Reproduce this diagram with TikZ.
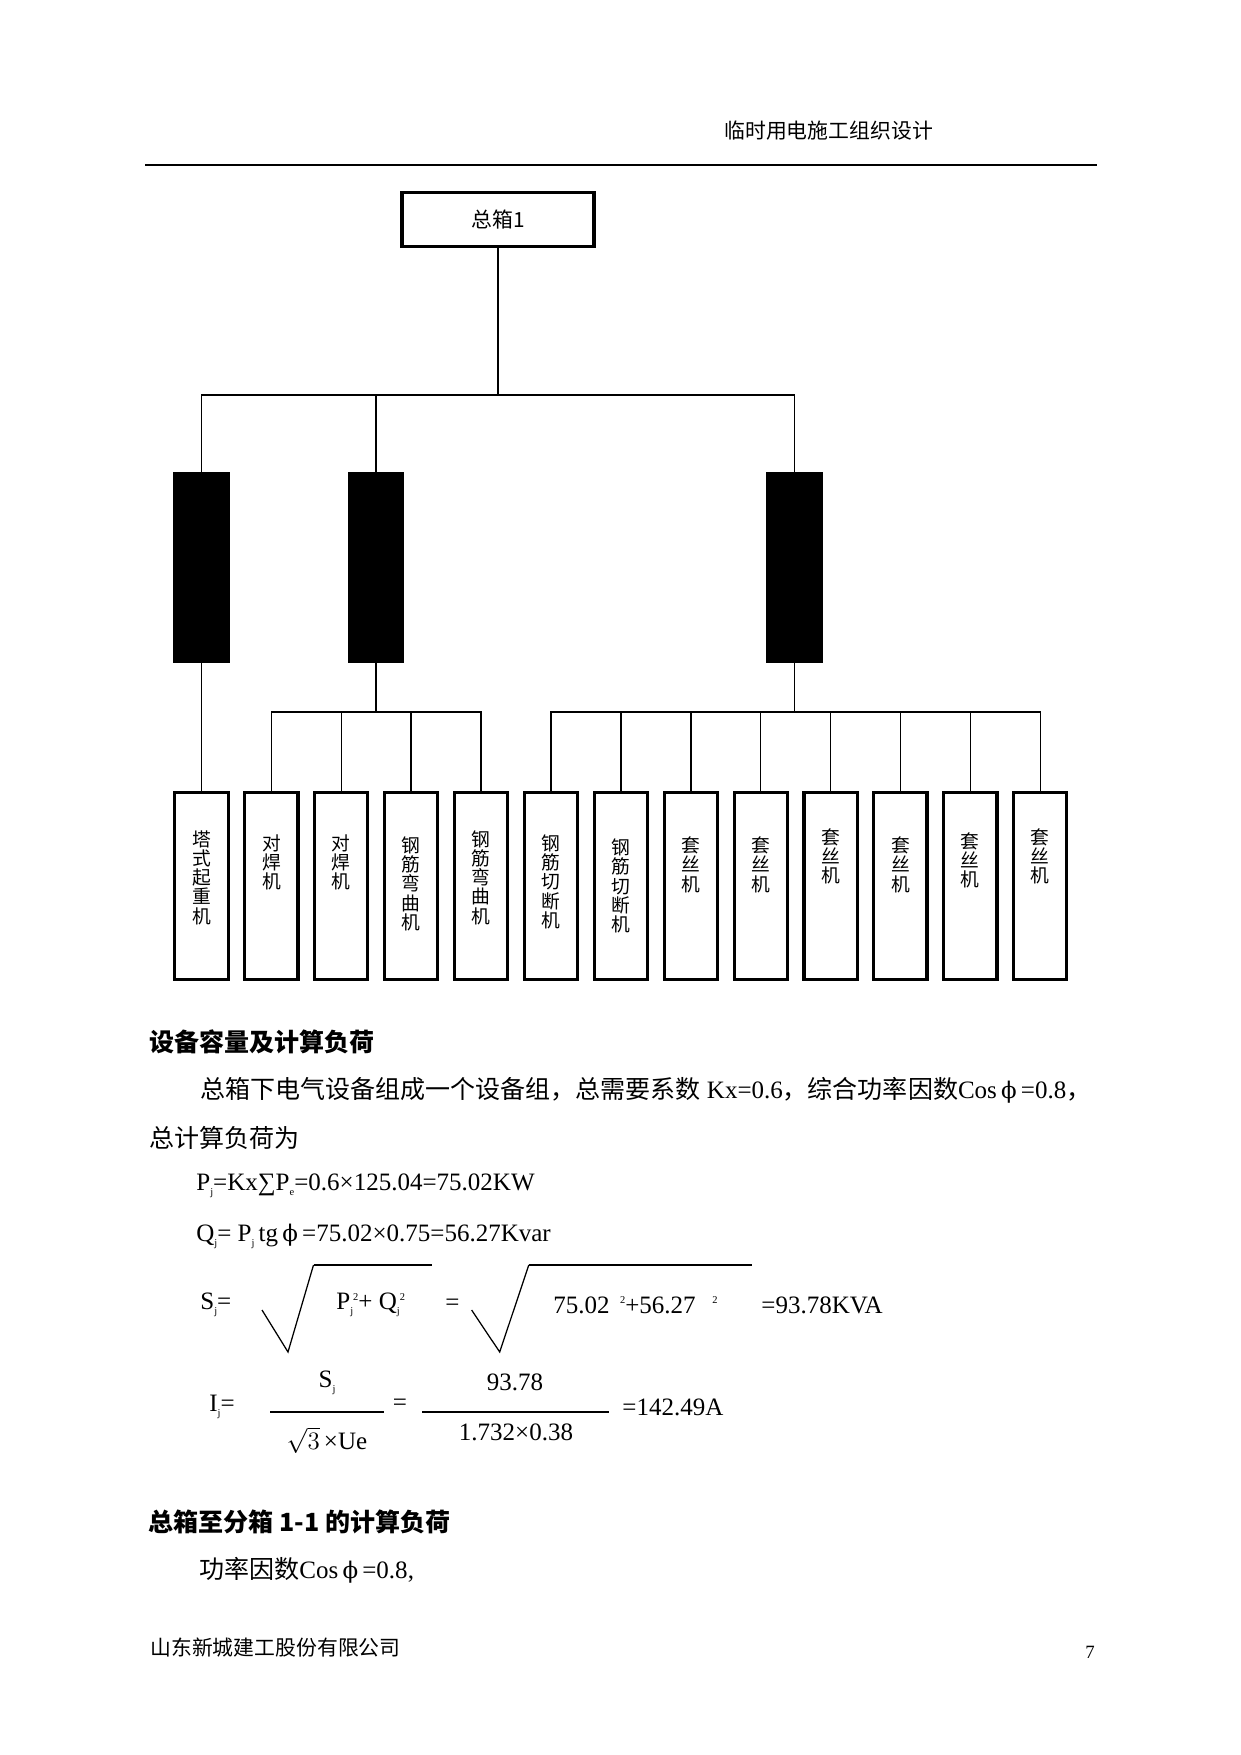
\documentclass[tikz,border=0pt]{standalone}
\usepackage{fontspec}
\setmainfont{Liberation Serif}
\newfontfamily\cjk{Noto Sans CJK SC}
\newfontfamily\dvs{DejaVu Serif}
\usetikzlibrary{positioning}
\newcommand\sbj{\raisebox{-0.45ex}{\fontsize{5}{5}\selectfont j}}
\newcommand\sbe{\raisebox{-0.45ex}{\fontsize{5}{5}\selectfont e}}
\newcommand\spt{\raisebox{0.8ex}{\fontsize{5}{5}\selectfont 2}}
\newcommand\phis{{\dvs\fontsize{11}{14}\selectfont ϕ}}

\begin{document}
\begin{tikzpicture}[x=0.4797pt,y=-0.4797pt,node distance={33.53pt},
  top/.style = {draw,line width=1.6pt,minimum width=92pt,minimum height=26pt,inner sep=0pt,font=\cjk\fontsize{10}{12}\selectfont},
  bar/.style = {fill=black,minimum width=27pt,minimum height=91.5pt,inner sep=0pt},
  dev/.style = {draw,line width=1.5pt,minimum width=25.5pt,minimum height=90pt,inner sep=0pt},
  lbl/.style = {align=center,inner sep=0pt,font=\cjk\fontsize{9}{9.2}\selectfont},
  txt/.style = {anchor=west,inner sep=0pt,font=\fontsize{12}{14}\selectfont},
  hd/.style = {txt,font=\cjk\bfseries\fontsize{12}{14}\selectfont},
  rad/.style = {line width=0.6pt},
  ovl/.style = {line width=1.3pt},
  fr/.style = {line width=0.8pt}]
      \fill[white] (0,0) rectangle (1241,1755);
      \useasboundingbox (0,0) rectangle (1241,1755);
      % page head
      \node[txt,font=\cjk\fontsize{10}{12}\selectfont] (hdr) at (724,131) {临时用电施工组织设计};
      \draw[line width=0.5pt] (145,165) -- (1097,165);
      % tree
      \node[top] (t) at (498,219.5) {总箱1};
      \node[bar] (b1) at (201.5,567.5) {};
      \node[bar] (b2) at (376,567.5) {};
      \node[bar] (b3) at (794.5,567.5) {};
      \coordinate (j1) at (498,395);
      \coordinate (j2) at (376,712);
      \coordinate (j3) at (794.5,712);
      \node[dev] (d1) at (201.5,886) {};
      \node[dev] (d2) [right of=d1] {};
      \node[dev] (d3) [right of=d2] {};
      \node[dev] (d4) [right of=d3] {};
      \node[dev] (d5) [right of=d4] {};
      \node[dev] (d6) [right of=d5] {};
      \node[dev] (d7) [right of=d6] {};
      \node[dev] (d8) [right of=d7] {};
      \node[dev] (d9) [right of=d8] {};
      \node[dev] (d10) [right of=d9] {};
      \node[dev] (d11) [right of=d10] {};
      \node[dev] (d12) [right of=d11] {};
      \node[dev] (d13) [right of=d12] {};
      \node[lbl] (n1) [below=19pt of d1.north] {塔\\式\\起\\重\\机};
      \node[lbl] (n2) [below=21pt of d2.north] {对\\焊\\机};
      \node[lbl] (n3) [below=21pt of d3.north] {对\\焊\\机};
      \node[lbl] (n4) [below=22pt of d4.north] {钢\\筋\\弯\\曲\\机};
      \node[lbl] (n5) [below=19pt of d5.north] {钢\\筋\\弯\\曲\\机};
      \node[lbl] (n6) [below=21pt of d6.north] {钢\\筋\\切\\断\\机};
      \node[lbl] (n7) [below=23pt of d7.north] {钢\\筋\\切\\断\\机};
      \node[lbl] (n8) [below=22pt of d8.north] {套\\丝\\机};
      \node[lbl] (n9) [below=22pt of d9.north] {套\\丝\\机};
      \node[lbl] (n10) [below=18pt of d10.north] {套\\丝\\机};
      \node[lbl] (n11) [below=22pt of d11.north] {套\\丝\\机};
      \node[lbl] (n12) [below=20pt of d12.north] {套\\丝\\机};
      \node[lbl] (n13) [below=18pt of d13.north] {套\\丝\\机};
      \draw[line width=0.7pt] (t) -- (j1);
      \draw[line width=0.7pt] (b1) |- (j1);
      \draw[line width=0.7pt] (b2) -- (b2 |- j1);
      \draw[line width=0.7pt] (b3) |- (j1);
      \draw[line width=0.7pt] (b1) -- (d1);
      \draw[line width=0.7pt] (b2) -- (j2);
      \draw[line width=0.7pt] (d2) |- (j2);
      \draw[line width=0.7pt] (d3) -- (d3 |- j2);
      \draw[line width=0.7pt] (d4) -- (d4 |- j2);
      \draw[line width=0.7pt] (d5) |- (j2);
      \draw[line width=0.7pt] (b3) -- (j3);
      \draw[line width=0.7pt] (d6) |- (j3);
      \draw[line width=0.7pt] (d7) -- (d7 |- j3);
      \draw[line width=0.7pt] (d8) -- (d8 |- j3);
      \draw[line width=0.7pt] (d9) -- (d9 |- j3);
      \draw[line width=0.7pt] (d10) -- (d10 |- j3);
      \draw[line width=0.7pt] (d11) -- (d11 |- j3);
      \draw[line width=0.7pt] (d12) -- (d12 |- j3);
      \draw[line width=0.7pt] (d13) |- (j3);
      % text below
      \node[hd] (h1) at (149,1042) {设备容量及计算负荷};
      \node[txt] (p1) at (200,1090) {{\cjk 总箱下电气设备组成一个设备组，总需要系数} Kx=0.6{\cjk ，综合功率因数}Cos\,\phis\,=0.8{\cjk ，}};
      \node[txt,font=\cjk\fontsize{12}{14}\selectfont] (p2) at (149,1138) {总计算负荷为};
      \node[txt] (e1) at (196,1186) {P\sbj=Kx∑P\sbe=0.6×125.04=75.02KW};
      \node[txt] (e2) at (196,1236) {Q\sbj= P\sbj\,tg\,\phis\,=75.02×0.75=56.27Kvar};
      \node[txt] (s1) at (200,1305) {S\sbj=};
      \draw[rad] (262,1310) -- (288,1352) -- (313.5,1265);
      \draw[ovl] (313.5,1265) -- (432,1265);
      \node[txt] (s2) at (336,1305) {P\sbj\spt+ Q\sbj\spt};
      \node[txt] (s3) at (445,1305) {=};
      \draw[rad] (471.6,1310) -- (499.7,1352) -- (528.8,1265);
      \draw[ovl] (528.8,1265) -- (752,1265);
      \node[txt] (s4) at (553,1305) {75.02\hspace{5pt}\spt+56.27\hspace{8pt}\spt};
      \node[txt] (s5) at (761,1305) {=93.78KVA};
      \node[txt] (i1) at (209,1407) {I\sbj=};
      \node[txt,anchor=center] (i2) at (327,1383) {S\sbj};
      \draw[fr] (270,1412) -- (384,1412);
      \node[txt,anchor=center] (i3) at (327,1440) {$\sqrt{3}$\,×Ue};
      \node[txt,anchor=center] (i4) at (400,1405) {=};
      \node[txt,anchor=center] (i5) at (515,1382) {93.78};
      \draw[fr] (422,1412) -- (609,1412);
      \node[txt,anchor=center] (i6) at (516,1432) {1.732×0.38};
      \node[txt] (i7) at (622,1407) {=142.49A};
      \node[hd] (h2) at (148,1522) {总箱至分箱 1-1 的计算负荷};
      \node[txt] (p3) at (199,1570) {{\cjk 功率因数}Cos\,\phis\,=0.8,};
      % page foot
      \node[txt,font=\cjk\fontsize{10}{12}\selectfont] (ftr) at (150,1648) {山东新城建工股份有限公司};
      \node[txt,anchor=center,font=\fontsize{9}{10}\selectfont] (pg) at (1090,1652) {7};
    \end{tikzpicture}
\end{document}
